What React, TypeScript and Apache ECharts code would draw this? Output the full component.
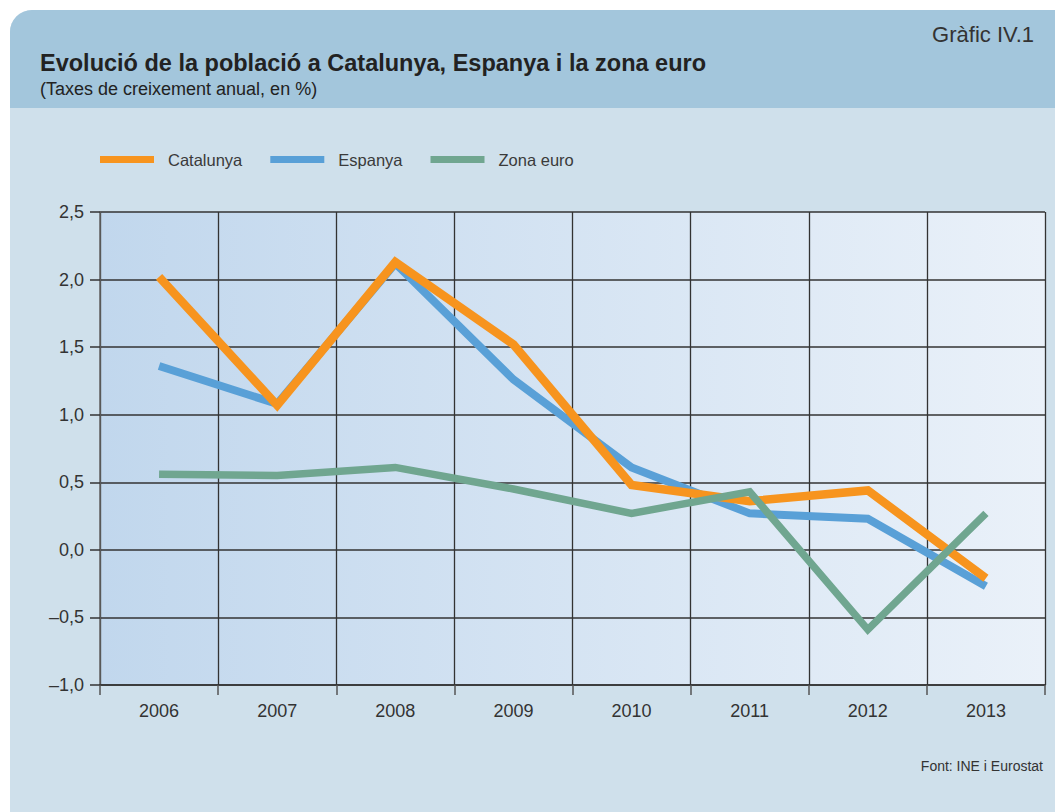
import React, { useEffect, useRef } from "react";
import * as echarts from "echarts";

const years = ["2006", "2007", "2008", "2009", "2010", "2011", "2012", "2013"];
const catalunya = [2.02, 1.07, 2.13, 1.52, 0.48, 0.36, 0.44, -0.21];
const espanya = [1.36, 1.08, 2.12, 1.26, 0.61, 0.27, 0.23, -0.27];
const zonaEuro = [0.56, 0.55, 0.61, 0.45, 0.27, 0.43, -0.59, 0.27];
const yTicks = { min: -1, max: 2.5, interval: 0.5 };

const FONT = "'Liberation Sans', Arial, Helvetica, sans-serif";
const TEXT = "#333333";

function fmt(v: number): string {
  const s = Math.abs(v).toFixed(1).replace(".", ",");
  return v < 0 ? "\u2013" + s : s;
}

export default function App() {
  const ref = useRef<HTMLDivElement>(null);
  useEffect(() => {
    if (!ref.current) return;
    const chart = echarts.init(ref.current, null, { renderer: "svg" });
    chart.setOption({
      animation: false,
      backgroundColor: "#ffffff",
      textStyle: { fontFamily: FONT },
      graphic: [
        {
          type: "rect",
          z: -10,
          shape: { x: 10, y: 10, width: 1045, height: 802, r: [22, 0, 0, 0] },
          style: { fill: "#cfe0eb" },
        },
        {
          type: "rect",
          z: -9,
          shape: { x: 10, y: 10, width: 1045, height: 98, r: [22, 0, 0, 0] },
          style: { fill: "#a3c6dc" },
        },
        {
          type: "text",
          x: 40,
          y: 63,
          style: {
            text: "Evolució de la població a Catalunya, Espanya i la zona euro",
            font: `bold 23.5px ${FONT}`,
            fill: "#222222",
            textVerticalAlign: "middle",
          },
        },
        {
          type: "text",
          x: 40,
          y: 89,
          style: {
            text: "(Taxes de creixement anual, en %)",
            font: `18px ${FONT}`,
            fill: "#222222",
            textVerticalAlign: "middle",
          },
        },
        {
          type: "text",
          x: 1034,
          y: 34,
          style: {
            text: "Gràfic IV.1",
            font: `22px ${FONT}`,
            fill: "#333333",
            textAlign: "right",
            textVerticalAlign: "middle",
          },
        },
        {
          type: "text",
          x: 1043,
          y: 766,
          style: {
            text: "Font: INE i Eurostat",
            font: `14px ${FONT}`,
            fill: "#333333",
            textAlign: "right",
            textVerticalAlign: "middle",
          },
        },
      ],
      legend: {
        left: 100,
        top: 151,
        padding: 0,
        icon: "rect",
        itemWidth: 54,
        itemHeight: 7,
        itemGap: 28,
        data: ["Catalunya", "Espanya", "Zona euro"],
        textStyle: {
          fontFamily: FONT,
          fontSize: 16.5,
          color: "#3a3a3a",
          padding: [0, 0, 0, 9],
        },
      },
      grid: {
        left: 100,
        right: 10,
        top: 212,
        bottom: 127,
        show: true,
        borderWidth: 0,
        backgroundColor: {
          type: "linear",
          x: 0,
          y: 0,
          x2: 1,
          y2: 0,
          colorStops: [
            { offset: 0, color: "#c1d7ed" },
            { offset: 1, color: "#eaf1f9" },
          ],
        },
      },
      xAxis: {
        type: "category",
        data: years,
        boundaryGap: true,
        axisLine: { show: true, onZero: false, lineStyle: { color: "#333333", width: 1.5 } },
        axisTick: { show: true, length: 10, lineStyle: { color: "#555555", width: 1.5 } },
        splitLine: { show: true, lineStyle: { color: "#333333", width: 1.3 } },
        axisLabel: { color: TEXT, fontSize: 18, fontFamily: FONT, margin: 17 },
      },
      yAxis: {
        type: "value",
        min: yTicks.min,
        max: yTicks.max,
        interval: yTicks.interval,
        axisLine: { show: true, lineStyle: { color: "#666666", width: 1.5 } },
        axisTick: { show: true, length: 10, lineStyle: { color: "#333333", width: 1.5 } },
        splitLine: { show: true, lineStyle: { color: "#333333", width: 1.5 } },
        axisLabel: {
          color: TEXT,
          fontSize: 18,
          fontFamily: FONT,
          margin: 16,
          formatter: (v: number) => fmt(v),
        },
      },
      series: [
        {
          name: "Espanya",
          type: "line",
          data: espanya,
          showSymbol: false,
          symbol: "none",
          color: "#59a0d7",
          lineStyle: { width: 8, color: "#59a0d7", join: "miter", cap: "butt" },
          z: 3,
        },
        {
          name: "Catalunya",
          type: "line",
          data: catalunya,
          showSymbol: false,
          symbol: "none",
          color: "#f7941e",
          lineStyle: { width: 8.5, color: "#f7941e", join: "miter", cap: "butt" },
          z: 4,
        },
        {
          name: "Zona euro",
          type: "line",
          data: zonaEuro,
          showSymbol: false,
          symbol: "none",
          color: "#70a690",
          lineStyle: { width: 7.5, color: "#70a690", join: "miter", cap: "butt" },
          z: 5,
        },
      ],
    });
    return () => chart.dispose();
  }, []);
  return (
    <div
      ref={ref}
      style={{ position: "absolute", left: 0, top: 0, width: 1055, height: 812 }}
    />
  );
}
